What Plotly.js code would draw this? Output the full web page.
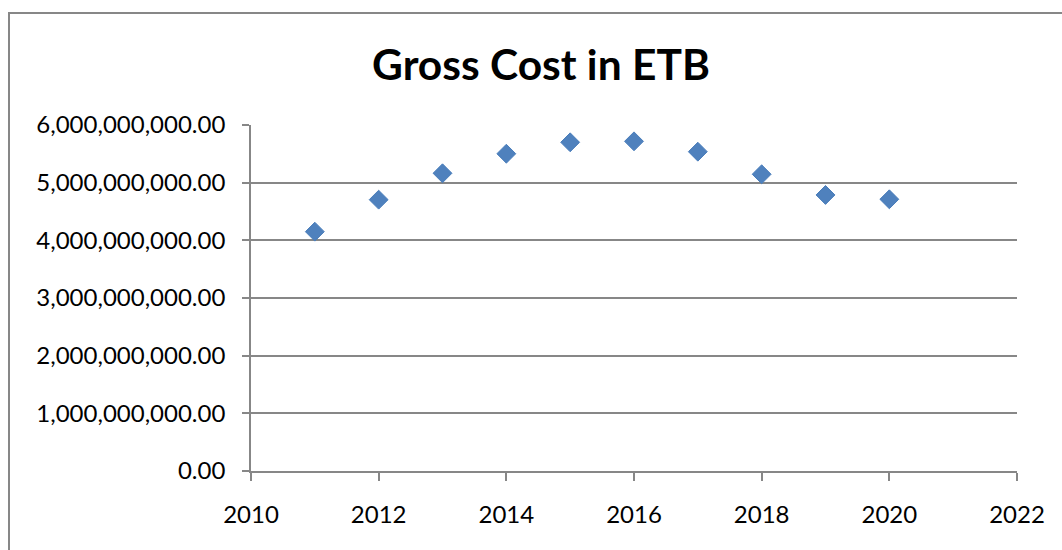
<!DOCTYPE html>
<html>
<head>
<meta charset="utf-8">
<script src="https://cdn.plot.ly/plotly-3.0.1.min.js"></script>
<style>
  html, body { margin: 0; padding: 0; background: #fff; }
  #chart { width: 1062px; height: 550px; }
</style>
</head>
<body>
<div id="chart"></div>
<script>
// Annual gross cost, Ethiopian birr
const years = [2011, 2012, 2013, 2014, 2015, 2016, 2017, 2018, 2019, 2020];
const grossCost = [4.15e9, 4.705e9, 5.163e9, 5.502e9, 5.70e9, 5.717e9, 5.537e9, 5.146e9, 4.787e9, 4.712e9];
const yTicks = [0, 1e9, 2e9, 3e9, 4e9, 5e9, 6e9];
const xTicks = [2010, 2012, 2014, 2016, 2018, 2020, 2022];

const axisGrey = '#878787';
const fontFamily = 'Lato, "Open Sans", sans-serif';

const trace = {
  type: 'scatter',
  mode: 'markers',
  x: years,
  y: grossCost,
  marker: {
    symbol: 'diamond',
    size: 14.5,
    color: '#4F81BD',
    line: { color: '#4A7EBB', width: 1 }
  },
  hoverinfo: 'x+y'
};

const layout = {
  width: 1062,
  height: 550,
  margin: { l: 251, r: 45, t: 125, b: 79 },
  paper_bgcolor: '#ffffff',
  plot_bgcolor: '#ffffff',
  showlegend: false,
  font: { family: fontFamily, color: '#000000', size: 24 },
  title: {
    text: 'Gross Cost in ETB',
    font: { family: fontFamily, size: 42.5, color: '#000000', weight: 'bold' },
    x: 541 / 1062,
    xref: 'container',
    xanchor: 'center',
    y: 1 - 65 / 550,
    yref: 'container',
    yanchor: 'middle'
  },
  xaxis: {
    range: [xTicks[0], xTicks[xTicks.length - 1]],
    tickmode: 'array',
    tickvals: xTicks,
    ticktext: xTicks.map(String),
    showgrid: false,
    zeroline: false,
    showline: true,
    linecolor: axisGrey,
    linewidth: 1.8,
    ticks: 'outside',
    ticklen: 8,
    tickwidth: 1.8,
    tickcolor: axisGrey,
    ticklabelstandoff: 13,
    tickfont: { family: fontFamily, size: 24, color: '#000000' },
    fixedrange: true
  },
  yaxis: {
    range: [yTicks[0], yTicks[yTicks.length - 1]],
    tickmode: 'array',
    tickvals: yTicks,
    tickformat: ',.2f',
    showgrid: true,
    gridcolor: axisGrey,
    gridwidth: 1.8,
    zeroline: false,
    showline: true,
    linecolor: axisGrey,
    linewidth: 1.8,
    ticks: 'outside',
    ticklen: 7,
    tickwidth: 1.8,
    tickcolor: axisGrey,
    ticklabelstandoff: 12,
    tickfont: { family: fontFamily, size: 24, color: '#000000' },
    fixedrange: true
  },
  shapes: [{
    // outer chart frame
    type: 'rect',
    xref: 'paper',
    yref: 'paper',
    x0: (9 - 251) / 766,
    x1: 1.2,
    y0: -0.5,
    y1: (471 - 13) / 346,
    line: { color: axisGrey, width: 2 },
    fillcolor: 'rgba(0,0,0,0)',
    layer: 'below'
  }]
};

Plotly.newPlot('chart', [trace], layout, { displayModeBar: false, staticPlot: true });
</script>
</body>
</html>
